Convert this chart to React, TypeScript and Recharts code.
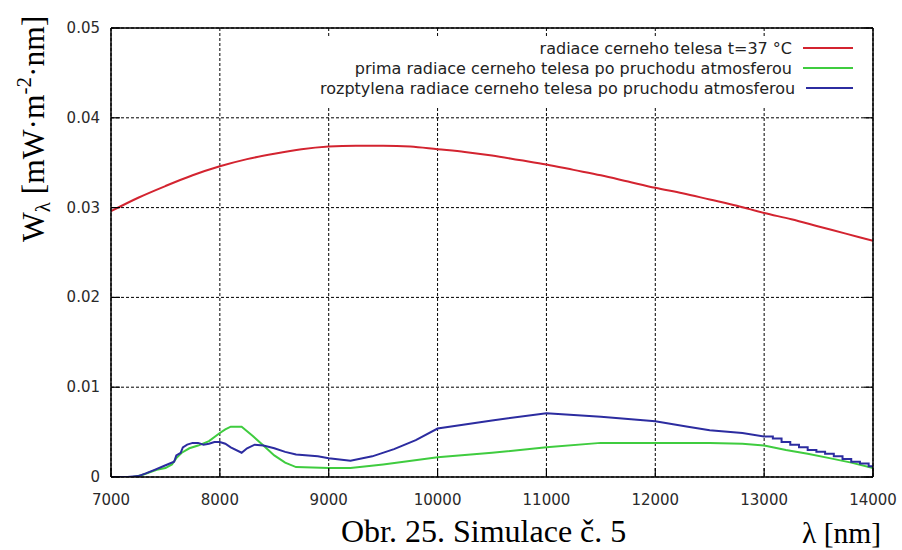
import { LineChart, Line, XAxis, YAxis, CartesianGrid, Legend, Customized } from "recharts";

// axis ticks
const lambdaTicks = [7000, 8000, 9000, 10000, 11000, 12000, 13000, 14000];
const wTicks = [0, 0.01, 0.02, 0.03, 0.04, 0.05];

// black body radiation at 37 °C
const blackbodyNm = [
  7000, 7250, 7500, 7750, 8000, 8250, 8500, 8750, 9000, 9250, 9500, 9750, 10000, 10250, 10500,
  10750, 11000, 11250, 11500, 11750, 12000, 12250, 12500, 12750, 13000, 13250, 13500, 13750, 14000,
];
const blackbodyW = [
  0.0296, 0.0311, 0.0324, 0.0336, 0.0346, 0.0354, 0.036, 0.0365, 0.0368, 0.0369, 0.0369, 0.0368,
  0.0365, 0.0362, 0.0358, 0.0353, 0.0348, 0.0342, 0.0336, 0.0329, 0.0322, 0.0316, 0.0309, 0.0302,
  0.0294, 0.0287, 0.0279, 0.0271, 0.0263,
];

// direct part after passing the atmosphere
const directNm = [
  7000, 7200, 7280, 7350, 7420, 7500, 7560, 7600, 7650, 7720, 7800, 7900, 8000, 8050, 8100, 8200,
  8300, 8400, 8500, 8600, 8700, 9000, 9200, 9500, 10000, 10500, 11000, 11500, 12000, 12500, 12800,
  13000, 13200, 13400, 13600, 13800, 14000,
];
const directW = [
  0, 0, 0.0002, 0.0005, 0.0008, 0.001, 0.0014, 0.0021, 0.0027, 0.0032, 0.0035, 0.004, 0.0049,
  0.0053, 0.0056, 0.0056, 0.0046, 0.0035, 0.0024, 0.0016, 0.0011, 0.001, 0.001, 0.0014, 0.0022,
  0.0027, 0.0033, 0.0038, 0.0038, 0.0038, 0.0037, 0.0035, 0.003, 0.0026, 0.0021, 0.0016, 0.001,
];

// scattered part after passing the atmosphere
const diffuseNm = [
  7000, 7150, 7250, 7320, 7400, 7480, 7540, 7580, 7600, 7640, 7660, 7700, 7750, 7800, 7850, 7900,
  7950, 8000, 8050, 8100, 8200, 8250, 8320, 8400, 8500, 8600, 8700, 8900, 9000, 9200, 9400, 9600,
  9800, 10000, 10500, 11000, 11500, 12000, 12300, 12500, 12800, 13000,
];
const diffuseW = [
  0, 0, 0.0001, 0.0004, 0.0008, 0.0012, 0.0015, 0.0017, 0.0024, 0.0027, 0.0033, 0.0036, 0.0038,
  0.0038, 0.0036, 0.0037, 0.0039, 0.0039, 0.0037, 0.0033, 0.0027, 0.0032, 0.0036, 0.0035, 0.0032,
  0.0028, 0.0025, 0.0023, 0.0021, 0.0018, 0.0023, 0.0031, 0.0041, 0.0054, 0.0063, 0.0071, 0.0067,
  0.0062, 0.0056, 0.0052, 0.0049, 0.0045,
];
// stepped end of the scattered part
const diffuseTailNm = [
  13000, 13080, 13160, 13240, 13320, 13400, 13480, 13560, 13640, 13720, 13800, 13880, 13960, 14000,
];
const diffuseTailW = [
  0.0045, 0.0043, 0.0039, 0.0036, 0.0033, 0.003, 0.0028, 0.0026, 0.0023, 0.002, 0.0017, 0.0015,
  0.0012, 0.001,
];

const toRows = (nm: number[], w: number[]) => nm.map((x, i) => ({ nm: x, w: w[i] }));

const RED = "#d32430";
const GREEN = "#3fcc3f";
const BLUE = "#2c2ca0";
const TICK_LEN = 9;
const SANS = "'DejaVu Sans', sans-serif";
const SERIF = "'Liberation Serif', 'Times New Roman', serif";

const seriesNames = [
  "radiace cerneho telesa t=37 °C",
  "prima radiace cerneho telesa po pruchodu atmosferou",
  "rozptylena radiace cerneho telesa po pruchodu atmosferou",
];
const seriesColors = [RED, GREEN, BLUE];

const BottomTick = (props: any) => {
  const { x, y, payload } = props;
  return (
    <g>
      <line x1={x} x2={x} y1={y} y2={y - TICK_LEN} stroke="#000" strokeWidth={1.2} />
      <text x={x} y={y + 28} textAnchor="middle" fontFamily={SANS} fontSize={15} fill="#2a2a2a">
        {payload.value}
      </text>
    </g>
  );
};

const TopTick = (props: any) => {
  const { x, y } = props;
  return <line x1={x} x2={x} y1={y} y2={y + TICK_LEN} stroke="#000" strokeWidth={1.2} />;
};

const LeftTick = (props: any) => {
  const { x, y, payload } = props;
  return (
    <g>
      <line x1={x} x2={x + TICK_LEN} y1={y} y2={y} stroke="#000" strokeWidth={1.2} />
      <text x={x - 11} y={y + 5} textAnchor="end" fontFamily={SANS} fontSize={15} fill="#2a2a2a">
        {payload.value}
      </text>
    </g>
  );
};

const RightTick = (props: any) => {
  const { x, y } = props;
  return <line x1={x} x2={x - TICK_LEN} y1={y} y2={y} stroke="#000" strokeWidth={1.2} />;
};

// legend box in the top right corner, white so the grid stops behind it
const renderLegend = () => (
  <div style={{ background: "#fff", padding: "1px 12px 10px 0" }}>
    {seriesNames.map((name, i) => (
      <div
        key={name}
        style={{
          display: "flex",
          justifyContent: "flex-end",
          alignItems: "center",
          height: 20,
          fontFamily: SANS,
          fontSize: 16,
          color: "#222",
          whiteSpace: "nowrap",
        }}
      >
        <span>{name}</span>
        <span style={{ display: "inline-block", width: 50, height: 2, marginLeft: 11, background: seriesColors[i] }} />
      </div>
    ))}
  </div>
);

const AxisTitles = () => (
  <g fill="#000">
    <text transform="translate(44,242) rotate(-90)" fontFamily={SERIF} fontSize={31.5}>
      W
      <tspan fontSize={21} dy={6}>λ</tspan>
      <tspan dy={-6}> [mW·m</tspan>
      <tspan fontSize={21} dy={-13}>-2</tspan>
      <tspan dy={13}>·nm]</tspan>
    </text>
    <text x={341} y={542} fontFamily={SERIF} fontSize={32}>
      Obr. 25. Simulace č. 5
    </text>
    <text x={802} y={543} fontFamily={SERIF} fontSize={29.5}>
      λ [nm]
    </text>
  </g>
);

export default function App() {
  return (
    <div style={{ position: "absolute", left: 0, top: 0, width: 902, height: 550, background: "#fff" }}>
      <LineChart width={902} height={550} margin={{ top: 18, right: 9, bottom: 43, left: 51 }}>
        <CartesianGrid stroke="#000" strokeDasharray="3 2" strokeWidth={1} />
        <XAxis
          dataKey="nm"
          type="number"
          domain={[7000, 14000]}
          ticks={lambdaTicks}
          interval={0}
          height={30}
          tickSize={0}
          tickMargin={0}
          tickLine={false}
          axisLine={{ stroke: "#000", strokeWidth: 1.5 }}
          tick={BottomTick}
          allowDataOverflow
        />
        <XAxis
          xAxisId="top"
          orientation="top"
          type="number"
          domain={[7000, 14000]}
          ticks={lambdaTicks}
          interval={0}
          height={10}
          tickSize={0}
          tickMargin={0}
          tickLine={false}
          axisLine={{ stroke: "#000", strokeWidth: 1.5 }}
          tick={TopTick}
          allowDataOverflow
        />
        <YAxis
          type="number"
          domain={[0, 0.05]}
          ticks={wTicks}
          interval={0}
          width={60}
          tickSize={0}
          tickMargin={0}
          tickLine={false}
          axisLine={{ stroke: "#000", strokeWidth: 1.5 }}
          tick={LeftTick}
          allowDataOverflow
        />
        <YAxis
          yAxisId="right"
          orientation="right"
          type="number"
          domain={[0, 0.05]}
          ticks={wTicks}
          interval={0}
          width={20}
          tickSize={0}
          tickMargin={0}
          tickLine={false}
          axisLine={{ stroke: "#000", strokeWidth: 1.5 }}
          tick={RightTick}
          allowDataOverflow
        />
        <Line
          data={toRows(blackbodyNm, blackbodyW)}
          dataKey="w"
          name={seriesNames[0]}
          type="monotone"
          stroke={RED}
          strokeWidth={2}
          dot={false}
          isAnimationActive={false}
        />
        <Line
          data={toRows(directNm, directW)}
          dataKey="w"
          name={seriesNames[1]}
          type="linear"
          stroke={GREEN}
          strokeWidth={2}
          dot={false}
          isAnimationActive={false}
        />
        <Line
          data={toRows(diffuseNm, diffuseW)}
          dataKey="w"
          name={seriesNames[2]}
          type="linear"
          stroke={BLUE}
          strokeWidth={2}
          dot={false}
          isAnimationActive={false}
        />
        <Line
          data={toRows(diffuseTailNm, diffuseTailW)}
          dataKey="w"
          name="tail"
          type="stepAfter"
          stroke={BLUE}
          strokeWidth={2}
          dot={false}
          legendType="none"
          isAnimationActive={false}
        />
        <Legend
          layout="vertical"
          align="center"
          verticalAlign="middle"
          content={renderLegend}
          wrapperStyle={{ position: "absolute", left: 320, top: 37, width: 545, height: "auto" }}
        />
        <Customized component={AxisTitles} />
      </LineChart>
    </div>
  );
}
